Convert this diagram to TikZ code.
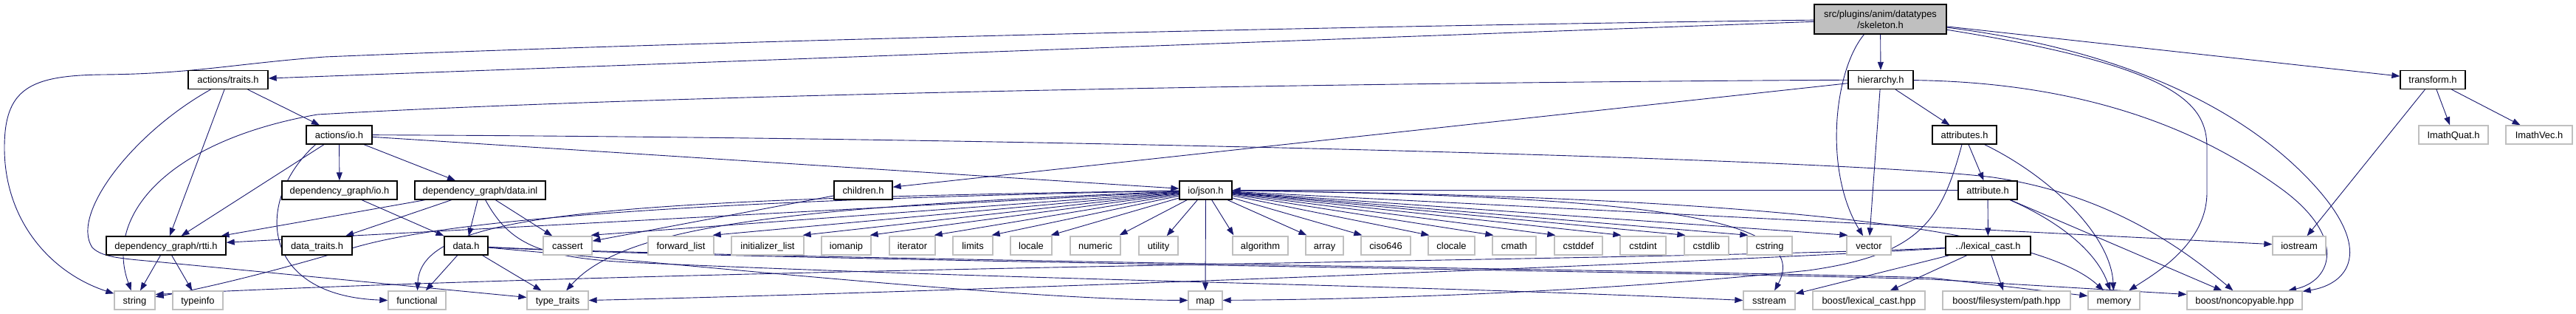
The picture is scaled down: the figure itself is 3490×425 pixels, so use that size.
\documentclass[tikz,border=0pt]{standalone}
\usepackage{fontspec}
\setmainfont{Liberation Sans}
\usetikzlibrary{arrows.meta}
\pgfdeclarelayer{bg}
\pgfsetlayers{bg,main}
\definecolor{edgeblue}{RGB}{25,25,112}
\definecolor{extgray}{RGB}{191,191,191}
\begin{document}
\begin{tikzpicture}[x=1pt,y=-1pt,
  every node/.style={font=\fontsize{12.9}{15}\selectfont, inner sep=0pt, text=black},
  intn/.style={draw=black, line width=1.3pt, fill=white, minimum height=25pt, text height=9pt, text depth=0pt},
  extn/.style={draw=extgray, line width=1.3pt, fill=white, minimum height=25pt, text height=9pt, text depth=0pt},
  rootn/.style={draw=black, line width=1.3pt, fill=extgray, align=center, minimum height=40pt},
  dep/.style={draw=edgeblue, line width=0.9pt, -{Triangle[length=11pt,width=8pt]}}
]
\useasboundingbox (0,0) rectangle (3490,425);

% row 0
\node[rootn, minimum width=179pt] (root) at (2547.5,26) {src/plugins/anim/datatypes\\/skeleton.h};
% row 1
\node[intn, minimum width=108pt] (traits) at (309,108) {actions/traits.h};
\node[intn, minimum width=88pt] (hier) at (2548,108) {hierarchy.h};
\node[intn, minimum width=88pt] (transform) at (3296,108) {transform.h};
% row 2
\node[intn, minimum width=89pt] (aio) at (459.5,182.5) {actions/io.h};
\node[intn, minimum width=87pt] (attrs) at (2661.5,182.5) {attributes.h};
\node[extn, minimum width=94pt] (quat) at (3324,182.5) {ImathQuat.h};
\node[extn, minimum width=90pt] (vec) at (3440,182.5) {ImathVec.h};
% row 3
\node[intn, minimum width=156pt] (dgio) at (460,257.5) {dependency\_graph/io.h};
\node[intn, minimum width=177pt] (dginl) at (650.5,257.5) {dependency\_graph/data.inl};
\node[intn, minimum width=79pt] (children) at (1169.5,257.5) {children.h};
\node[intn, minimum width=71pt] (json) at (1633.5,257.5) {io/json.h};
\node[intn, minimum width=80pt] (attr) at (2693,257.5) {attribute.h};
% row 4
\node[intn, minimum width=162pt] (rtti) at (225,332.5) {dependency\_graph/rtti.h};
\node[intn, minimum width=95pt] (dtraits) at (429.5,332.5) {data\_traits.h};
\node[intn, minimum width=59pt] (datah) at (631.5,332.5) {data.h};
\node[extn, minimum width=66pt] (cassert) at (769,332.5) {cassert};
\node[extn, minimum width=89pt] (fwd) at (922.5,332.5) {forward\_list};
\node[extn, minimum width=98pt] (initl) at (1040,332.5) {initializer\_list};
\node[extn, minimum width=67pt] (iomanip) at (1146.5,332.5) {iomanip};
\node[extn, minimum width=62pt] (iterator) at (1236,332.5) {iterator};
\node[extn, minimum width=54pt] (limits) at (1318,332.5) {limits};
\node[extn, minimum width=56pt] (locale) at (1397,332.5) {locale};
\node[extn, minimum width=68pt] (numeric) at (1484,332.5) {numeric};
\node[extn, minimum width=53pt] (utility) at (1569.5,332.5) {utility};
\node[extn, minimum width=75pt] (algorithm) at (1707.5,332.5) {algorithm};
\node[extn, minimum width=51pt] (array) at (1794.5,332.5) {array};
\node[extn, minimum width=67pt] (ciso646) at (1877.5,332.5) {ciso646};
\node[extn, minimum width=63pt] (clocale) at (1966.5,332.5) {clocale};
\node[extn, minimum width=59pt] (cmath) at (2051.5,332.5) {cmath};
\node[extn, minimum width=65pt] (cstddef) at (2138.5,332.5) {cstddef};
\node[extn, minimum width=62pt] (cstdint) at (2226,332.5) {cstdint};
\node[extn, minimum width=60pt] (cstdlib) at (2312,332.5) {cstdlib};
\node[extn, minimum width=61pt] (cstring) at (2397.5,332.5) {cstring};
\node[extn, minimum width=60pt] (vector) at (2532,332.5) {vector};
\node[intn, minimum width=115pt] (lexcast) at (2693.5,332.5) {../lexical\_cast.h};
\node[extn, minimum width=72pt] (iostream) at (3115,332.5) {iostream};
% row 5
\node[extn, minimum width=55pt] (string) at (182.5,406.5) {string};
\node[extn, minimum width=68pt] (typeinfo) at (268,406.5) {typeinfo};
\node[extn, minimum width=78pt] (functional) at (565,406.5) {functional};
\node[extn, minimum width=83pt] (typetraits) at (755.5,406.5) {type\_traits};
\node[extn, minimum width=46pt] (map) at (1633,406.5) {map};
\node[extn, minimum width=70pt] (sstream) at (2397,406.5) {sstream};
\node[extn, minimum width=152pt] (blc) at (2532,406.5) {boost/lexical\_cast.hpp};
\node[extn, minimum width=173pt] (path) at (2718.5,406.5) {boost/filesystem/path.hpp};
\node[extn, minimum width=70pt] (memory) at (2864,406.5) {memory};
\node[extn, minimum width=156pt] (noncopy) at (3041,406.5) {boost/noncopyable.hpp};

\begin{pgfonlayer}{bg}
\fill[white] (0,0) rectangle (3490,425);
% root
\draw[dep] (root) -- (hier);
\draw[dep] (root) -- (transform);
\draw[dep] (root) -- (traits);
\draw[dep] (root) .. controls (1600,38) and (800,62) .. (440,77) .. controls (320,86) and (260,100) .. (140,101) .. controls (40,102) and (6,120) .. (6,200) .. controls (6,300) and (70,370) .. (string);
\draw[dep] ([xshift=-22pt]root.south) .. controls (2485,95) and (2470,230) .. (vector);
\draw[dep] (root) .. controls (2950,90) and (2990,140) .. (2990,200) -- (2990,260) .. controls (2990,330) and (2920,370) .. (memory);
\draw[dep] (root) .. controls (2900,70) and (3050,160) .. (3130,245) .. controls (3220,340) and (3180,385) .. (noncopy);
% hierarchy.h
\draw[dep] (hier) -- (children);
\draw[dep] (hier) -- (vector);
\draw[dep] (hier) -- (attrs);
\draw[dep] (hier) .. controls (1800,112) and (900,128) .. (430,155) .. controls (230,190) and (140,290) .. (string);
\draw[dep] (hier) .. controls (2850,112) and (3000,190) .. (3090,255) .. controls (3180,320) and (3160,380) .. (noncopy);
% actions/traits.h
\draw[dep] (traits) -- (aio);
\draw[dep] (traits) -- (rtti);
\draw[dep] (traits) .. controls (180,180) and (95,290) .. (125,335) .. controls (140,350) and (170,350) .. (230,356) -- (typetraits);
% actions/io.h
\draw[dep] (aio) -- (rtti);
\draw[dep] (aio) -- (dgio);
\draw[dep] (aio) -- (dginl);
\draw[dep] (aio) -- (json);
\draw[dep] ([xshift=-32pt]aio.south) .. controls (345,270) and (350,400) .. (functional.west);
\draw[dep] (aio) .. controls (1400,186) and (2500,215) .. (2700,240) .. controls (2850,262) and (2950,330) .. (noncopy);
% dependency_graph/io.h and data.inl
\draw[dep] (dgio) -- (datah);
\draw[dep] (dginl) -- (rtti);
\draw[dep] (dginl) -- (dtraits);
\draw[dep] (dginl) -- (datah);
\draw[dep] (dginl) -- (cassert);
\draw[dep] (dginl) .. controls (690,330) and (730,348) .. (850,355) .. controls (1400,380) and (1900,385) .. (sstream.west);
% data.h
\draw[dep] (datah) -- (functional);
\draw[dep] (datah) -- (typetraits);
\draw[dep] (datah) .. controls (1000,365) and (1400,406) .. (map);
\draw[dep] (datah) .. controls (900,348) and (2300,366) .. (2616,376) -- ([yshift=6pt]memory.west);
\draw[dep] (datah) .. controls (900,350) and (2300,368) .. (2616,378) -- ([yshift=8pt]noncopy.west);
% rtti.h, children.h
\draw[dep] (rtti) -- (string);
\draw[dep] (rtti) -- (typeinfo);
\draw[dep] (children) -- (cassert);
% io/json.h
\foreach \t in {cassert,fwd,initl,iomanip,iterator,limits,locale,numeric}
  \draw[dep] (json) -- ([xshift=-2pt,yshift=1pt]\t.north east);
\foreach \t in {algorithm,array,ciso646,clocale,cmath,cstddef,cstdint,cstdlib,cstring,vector}
  \draw[dep] (json) -- ([xshift=2pt,yshift=1pt]\t.north west);
\foreach \t in {utility,iostream,map,rtti}
  \draw[dep] (json) -- (\t);
\draw[dep] (json) .. controls (900,272) and (600,300) .. (480,335) .. controls (380,365) and (280,390) .. (string);
\draw[dep] (json) .. controls (800,270) and (570,290) .. (functional);
\draw[dep] (json) .. controls (1100,280) and (850,300) .. (typetraits);
\draw[dep] (json) .. controls (2200,265) and (2460,290) .. (sstream);
\draw[dep] (json) .. controls (2300,265) and (2750,300) .. (memory);
% attributes.h
\draw[dep] (attrs) -- (attr);
\draw[dep] (attrs) .. controls (2780,240) and (2860,320) .. (memory);
\draw[dep] (attrs) .. controls (2630,300) and (2600,345) .. (2450,366) .. controls (2200,392) and (1900,405) .. (map);
% attribute.h
\draw[dep] (attr) -- (json);
\draw[dep] (attr) -- (lexcast);
\draw[dep] (attr) .. controls (2790,300) and (2840,340) .. (memory);
\draw[dep] (attr) -- (noncopy);
% ../lexical_cast.h
\draw[dep] (lexcast) -- (sstream);
\draw[dep] (lexcast) -- (blc);
\draw[dep] (lexcast) -- (path);
\draw[dep] (lexcast) .. controls (2300,352) and (1000,360) .. ([yshift=8pt]string.east);
\draw[dep] (lexcast) .. controls (2300,356) and (1300,395) .. (typetraits.east);
% transform.h
\draw[dep] (transform) -- (iostream);
\draw[dep] (transform) -- (quat);
\draw[dep] (transform) -- (vec);
\end{pgfonlayer}
\end{tikzpicture}
\end{document}
